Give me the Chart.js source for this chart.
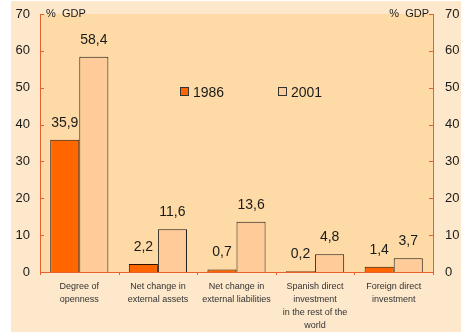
<!DOCTYPE html>
<html>
<head>
<meta charset="utf-8">
<script src="https://cdn.jsdelivr.net/npm/chart.js@4/dist/chart.umd.min.js"></script>
<style>
  html, body { margin: 0; padding: 0; background: #fff; }
  #wrap { width: 461px; height: 332px; }
</style>
</head>
<body>
<div id="wrap"><canvas id="gdpChart" width="461" height="332"></canvas></div>
<script>
const categories = [
  ["Degree of", "openness"],
  ["Net change in", "external assets"],
  ["Net change in", "external liabilities"],
  ["Spanish direct", "investment", "in the rest of the", "world"],
  ["Foreign direct", "investment"]
];
const values1986 = [35.9, 2.2, 0.7, 0.2, 1.4];
const values2001 = [58.4, 11.6, 13.6, 4.8, 3.7];
const yTicks = [0, 10, 20, 30, 40, 50, 60, 70];

const AXIS = "#E8602C";
const FONT = "'Liberation Sans', Arial, sans-serif";

const fmt = v => v.toFixed(1).replace(".", ",");
// drop the label overflow padding so the plot area lands where the original sits
const noPad = s => { s.paddingTop = 0; s.paddingBottom = 0; s.paddingLeft = 0; s.paddingRight = 0; };

const decorations = {
  id: "decorations",
  beforeDraw(chart) {
    const { ctx, chartArea: a } = chart;
    ctx.save();
    ctx.fillStyle = "#FDE8CB";
    ctx.fillRect(11, 1, chart.width - 11, chart.height - 1);
    ctx.fillStyle = "#FEDBA6";
    ctx.fillRect(a.left, a.top, a.right - a.left, a.bottom - a.top);
    ctx.restore();
  },
  afterDatasetsDraw(chart) {
    const { ctx } = chart;
    ctx.save();
    ctx.font = "14px " + FONT;
    ctx.fillStyle = "#1a1a1a";
    ctx.textAlign = "center";
    ctx.textBaseline = "alphabetic";
    chart.data.datasets.forEach((ds, i) => {
      chart.getDatasetMeta(i).data.forEach((bar, j) => {
        ctx.fillText(fmt(ds.data[j]), bar.x, bar.y - 13);
      });
    });
    ctx.restore();
  },
  afterDraw(chart) {
    const { ctx, chartArea: a, scales } = chart;
    ctx.save();
    ctx.strokeStyle = AXIS;
    ctx.lineWidth = 1;
    // inward ticks on both value axes
    yTicks.forEach(v => {
      const y = Math.round(scales.y.getPixelForValue(v)) + 0.5;
      ctx.beginPath();
      ctx.moveTo(a.left, y); ctx.lineTo(a.left + 4, y);
      ctx.moveTo(a.right, y); ctx.lineTo(a.right - 4, y);
      ctx.stroke();
    });
    // category separators below the base line
    const n = categories.length;
    for (let i = 0; i <= n; i++) {
      const x = Math.round(a.left + (a.right - a.left) * i / n) + 0.5;
      ctx.beginPath();
      ctx.moveTo(x, a.bottom); ctx.lineTo(x, a.bottom + 3);
      ctx.stroke();
    }
    // unit labels
    ctx.fillStyle = "#1a1a1a";
    ctx.font = "11px " + FONT;
    ctx.textBaseline = "alphabetic";
    ctx.textAlign = "left";
    ctx.fillText("%  GDP", a.left + 6, a.top + 3);
    ctx.textAlign = "right";
    ctx.fillText("%  GDP", a.right - 4, a.top + 3);
    // legend inside the plot
    const ly = a.top + 73;
    [[a.left + 140, "#FF6600", "1986"], [a.left + 238, "#FFCC99", "2001"]].forEach(([x, c, t]) => {
      ctx.fillStyle = c;
      ctx.fillRect(x, ly, 9, 9);
      ctx.strokeStyle = "#333";
      ctx.strokeRect(x + 0.5, ly + 0.5, 8, 8);
      ctx.fillStyle = "#1a1a1a";
      ctx.font = "14px " + FONT;
      ctx.textAlign = "left";
      ctx.fillText(t, x + 13, ly + 9.5);
    });
    ctx.restore();
  }
};

new Chart(document.getElementById("gdpChart"), {
  type: "bar",
  data: {
    labels: categories,
    datasets: [
      {
        label: "1986",
        data: values1986,
        backgroundColor: "#FF6600",
        borderColor: "#2a1405",
        borderWidth: 1,
        yAxisID: "y"
      },
      {
        label: "2001",
        data: values2001,
        backgroundColor: "#FFCC99",
        borderColor: "#1a1a1a",
        borderWidth: 1,
        yAxisID: "y"
      }
    ]
  },
  options: {
    responsive: false,
    animation: false,
    devicePixelRatio: 1,
    layout: { padding: { top: 14, left: 0, right: 0, bottom: 0 } },
    datasets: { bar: { categoryPercentage: 0.74, barPercentage: 1 } },
    plugins: {
      legend: { display: false },
      tooltip: { enabled: false },
      title: { display: false }
    },
    scales: {
      x: {
        grid: { display: false, drawTicks: false },
        border: { color: AXIS, width: 1 },
        ticks: {
          font: { family: FONT, size: 9, lineHeight: 1.45 },
          color: "#333",
          padding: 8,
          maxRotation: 0,
          autoSkip: false
        },
        afterFit(s) { s.height = 60; noPad(s); }
      },
      y: {
        position: "left",
        min: 0,
        max: 70,
        grid: { display: false, drawTicks: false },
        border: { color: AXIS, width: 1 },
        ticks: {
          stepSize: 10,
          padding: 10,
          font: { family: FONT, size: 13 },
          color: "#1a1a1a"
        },
        afterFit(s) { s.width = 40; noPad(s); }
      },
      y2: {
        position: "right",
        min: 0,
        max: 70,
        grid: { display: false, drawTicks: false },
        border: { color: AXIS, width: 1 },
        ticks: {
          stepSize: 10,
          padding: 12,
          font: { family: FONT, size: 13 },
          color: "#1a1a1a"
        },
        afterFit(s) { s.width = 28; noPad(s); }
      }
    }
  },
  plugins: [decorations]
});
</script>
</body>
</html>
